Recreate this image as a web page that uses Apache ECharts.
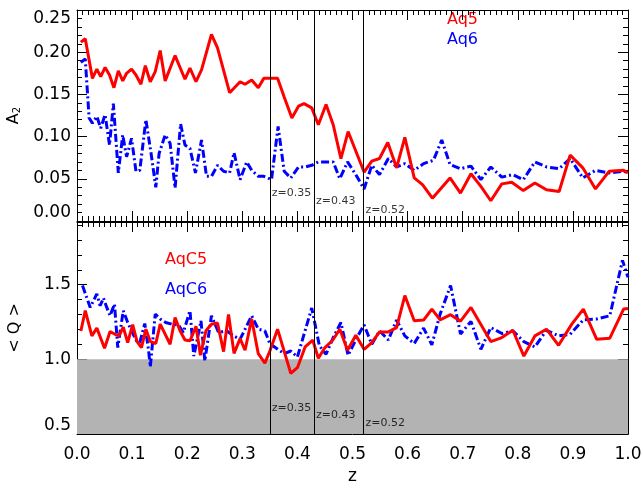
<!DOCTYPE html>
<html><head><meta charset="utf-8">
<script src="https://cdn.jsdelivr.net/npm/echarts@6/dist/echarts.min.js"></script>
<style>html,body{margin:0;padding:0;background:#fff}#c{width:643px;height:483px}</style>
</head><body><div id="c"></div>
<script>
// ---- data ----
const zAq5 = [0.007,0.015,0.028,0.036,0.043,0.051,0.059,0.067,0.075,0.083,0.090,0.099,0.107,0.116,0.124,0.133,0.142,0.151,0.160,0.178,0.196,0.205,0.216,0.226,0.244,0.255,0.277,0.296,0.305,0.317,0.329,0.339,0.350,0.364,0.376,0.390,0.402,0.412,0.426,0.438,0.452,0.465,0.479,0.492,0.521,0.535,0.549,0.564,0.580,0.595,0.612,0.627,0.645,0.677,0.696,0.715,0.733,0.751,0.771,0.789,0.810,0.831,0.852,0.875,0.895,0.918,0.941,0.966,0.992,1.0];
const a2Aq5 = [0.212,0.216,0.169,0.180,0.171,0.182,0.173,0.158,0.178,0.166,0.175,0.180,0.173,0.162,0.184,0.165,0.177,0.202,0.166,0.196,0.168,0.181,0.165,0.179,0.221,0.205,0.152,0.165,0.162,0.167,0.158,0.169,0.169,0.169,0.147,0.122,0.136,0.139,0.134,0.114,0.138,0.114,0.074,0.106,0.058,0.071,0.074,0.093,0.063,0.099,0.051,0.043,0.027,0.051,0.033,0.056,0.041,0.024,0.044,0.046,0.036,0.045,0.037,0.035,0.078,0.063,0.038,0.059,0.060,0.057];
const zAq6 = [0.007,0.015,0.022,0.028,0.036,0.043,0.051,0.059,0.066,0.075,0.083,0.090,0.099,0.107,0.114,0.125,0.134,0.143,0.149,0.160,0.169,0.178,0.188,0.196,0.205,0.215,0.226,0.235,0.244,0.255,0.266,0.277,0.285,0.296,0.308,0.317,0.329,0.339,0.353,0.365,0.376,0.388,0.402,0.414,0.426,0.438,0.465,0.477,0.491,0.506,0.521,0.535,0.549,0.565,0.580,0.595,0.612,0.629,0.647,0.662,0.677,0.696,0.715,0.733,0.751,0.771,0.791,0.810,0.831,0.852,0.875,0.895,0.918,0.941,0.966,0.992,1.0];
const a2Aq6 = [0.188,0.192,0.122,0.116,0.124,0.110,0.126,0.090,0.139,0.057,0.102,0.076,0.098,0.059,0.060,0.120,0.082,0.040,0.080,0.102,0.092,0.039,0.115,0.090,0.086,0.057,0.096,0.053,0.053,0.066,0.059,0.057,0.081,0.049,0.070,0.060,0.053,0.053,0.049,0.112,0.059,0.051,0.064,0.064,0.066,0.070,0.070,0.050,0.070,0.055,0.038,0.066,0.055,0.074,0.064,0.068,0.060,0.068,0.072,0.096,0.067,0.062,0.065,0.049,0.064,0.052,0.055,0.049,0.070,0.064,0.062,0.074,0.051,0.060,0.057,0.059,0.057];
const zAqC5 = [0.007,0.015,0.027,0.036,0.050,0.060,0.069,0.076,0.084,0.092,0.101,0.109,0.117,0.125,0.133,0.143,0.151,0.169,0.178,0.187,0.196,0.205,0.216,0.224,0.234,0.244,0.255,0.266,0.275,0.285,0.296,0.305,0.317,0.329,0.341,0.350,0.364,0.388,0.400,0.414,0.428,0.438,0.450,0.464,0.477,0.491,0.506,0.521,0.535,0.549,0.565,0.580,0.595,0.612,0.629,0.644,0.659,0.678,0.696,0.715,0.751,0.771,0.791,0.811,0.831,0.852,0.874,0.898,0.919,0.943,0.967,0.992,1.0];
const qAqC5 = [1.19,1.326,1.157,1.209,1.074,1.186,1.168,1.157,1.215,1.112,1.232,1.119,1.079,1.202,1.119,1.106,1.236,1.101,1.281,1.191,1.13,1.124,1.222,1.028,1.191,1.235,1.243,1.052,1.301,1.04,1.139,1.061,1.27,1.038,0.975,1.056,1.202,0.906,0.944,1.083,1.128,1.007,1.079,1.128,1.202,1.061,1.162,1.067,1.112,1.184,1.184,1.213,1.427,1.258,1.263,1.337,1.265,1.299,1.256,1.348,1.119,1.146,1.195,1.022,1.157,1.202,1.094,1.236,1.337,1.135,1.142,1.337,1.341];
const zAqC6 = [0.010,0.024,0.036,0.042,0.048,0.054,0.060,0.068,0.074,0.084,0.092,0.099,0.108,0.114,0.123,0.130,0.133,0.142,0.151,0.161,0.172,0.184,0.193,0.205,0.212,0.225,0.232,0.244,0.257,0.272,0.284,0.296,0.317,0.329,0.341,0.350,0.376,0.388,0.400,0.426,0.440,0.452,0.465,0.479,0.492,0.508,0.521,0.535,0.549,0.565,0.580,0.595,0.612,0.629,0.644,0.659,0.678,0.696,0.715,0.733,0.751,0.771,0.791,0.811,0.831,0.852,0.874,0.895,0.919,0.943,0.967,0.990,1.0];
const qAqC6 = [1.494,1.348,1.438,1.359,1.411,1.348,1.292,1.371,1.079,1.326,1.247,1.191,1.124,1.112,1.240,1.056,0.95,1.303,1.27,1.247,1.236,1.231,1.18,1.326,1.022,1.258,0.989,1.292,1.18,1.191,1.157,1.135,1.292,1.202,1.191,1.105,1.038,1.056,1.016,1.344,1.09,1.034,1.146,1.247,1.027,1.146,1.231,1.101,1.191,1.130,1.263,1.157,1.106,1.209,1.097,1.303,1.494,1.17,1.254,1.067,1.213,1.173,1.191,1.119,1.083,1.195,1.157,1.168,1.265,1.27,1.292,1.663,1.55];
const markerZ = [0.35, 0.43, 0.52];
const markerLabels = ['z=0.35', 'z=0.43', 'z=0.52'];
const greyBand = [0.5, 1.0];
const seriesNames = ['Aq5', 'Aq6', 'AqC5', 'AqC6'];

// ---- helpers ----
const FONT = 'DejaVu Sans';
const pairs = (x, y) => x.map((v, i) => [v, y[i]]);
const RED = '#ff0000', BLUE = '#0000ff';

function xAx(grid, pos, showLabel) {
  return {
    type: 'value', gridIndex: grid, position: pos, min: 0, max: 1, interval: 0.1,
    axisLine: { show: true, onZero: false, lineStyle: { color: '#000', width: 1 } },
    axisTick: { show: true, inside: true, length: 10, lineStyle: { color: '#000' } },
    minorTick: { show: true, splitNumber: 10, length: 5, lineStyle: { color: '#000' } },
    splitLine: { show: false },
    axisLabel: { show: showLabel, margin: 12, color: '#000', fontFamily: FONT, fontSize: 17,
      formatter: v => v.toFixed(1) },
    name: showLabel ? 'z' : '', nameLocation: 'middle', nameGap: 34,
    nameTextStyle: { color: '#000', fontFamily: FONT, fontSize: 17 }
  };
}
function yAx(grid, pos, min, max, interval, len, opts) {
  return Object.assign({
    type: 'value', gridIndex: grid, position: pos, min: min, max: max, interval: interval,
    axisLine: { show: true, onZero: false, lineStyle: { color: '#000', width: 1 } },
    axisTick: { show: true, inside: true, length: len, lineStyle: { color: '#000' } },
    splitLine: { show: false },
    axisLabel: { show: false }
  }, opts || {});
}

const chart = echarts.init(document.getElementById('c'), null, { renderer: 'canvas' });
const option = {
  animation: false,
  backgroundColor: '#fff',
  grid: [
    { left: 77, right: 15, top: 10, height: 211, containLabel: false, outerBoundsMode: 'none' },
    { left: 77, right: 15, top: 222, height: 212, containLabel: false, outerBoundsMode: 'none' }
  ],
  xAxis: [ xAx(0, 'bottom', false), xAx(0, 'top', false), xAx(1, 'bottom', true), xAx(1, 'top', false) ],
  yAxis: [
    yAx(0, 'left', 0, 0.25, 0.05, 10, {
      minorTick: { show: true, splitNumber: 5, length: 5, lineStyle: { color: '#000' } },
      axisLabel: { show: true, margin: 6, color: '#000', fontFamily: FONT, fontSize: 17,
        formatter: v => v.toFixed(2), verticalAlignMaxLabel: 'top', verticalAlignMinLabel: 'bottom' },
      name: '{a|A}{s|2}', nameLocation: 'middle', nameGap: 54,
      nameTextStyle: { color: '#000', fontFamily: FONT,
        rich: { a: { fontFamily: FONT, fontSize: 16, lineHeight: 16, verticalAlign: 'top', color: '#000' },
                s: { fontFamily: FONT, fontSize: 10, lineHeight: 10, padding: [11, 0, 0, 0], verticalAlign: 'bottom', color: '#000' } } }
    }),
    yAx(0, 'right', 0, 0.25, 0.05, 10, {
      minorTick: { show: true, splitNumber: 5, length: 5, lineStyle: { color: '#000' } } }),
    yAx(1, 'left', 0.5, 1.92, 0.5, 10, {
      axisLabel: { show: true, margin: 6, color: '#000', fontFamily: FONT, fontSize: 17,
        formatter: v => v.toFixed(1), showMaxLabel: false, verticalAlignMinLabel: 'bottom' },
      name: '< Q >', nameLocation: 'middle', nameGap: 54,
      nameTextStyle: { color: '#000', fontFamily: FONT, fontSize: 16 }
    }),
    yAx(1, 'left', 0.5, 1.92, 0.1, 5),
    yAx(1, 'right', 0.5, 1.92, 0.5, 10),
    yAx(1, 'right', 0.5, 1.92, 0.1, 5)
  ],
  graphic: [
    { type: 'text', left: 447, top: 12, style: { text: seriesNames[0], fill: RED, font: '16px "DejaVu Sans"' } },
    { type: 'text', left: 447, top: 32, style: { text: seriesNames[1], fill: BLUE, font: '16px "DejaVu Sans"' } },
    { type: 'text', left: 165, top: 252, style: { text: seriesNames[2], fill: RED, font: '16px "DejaVu Sans"' } },
    { type: 'text', left: 165, top: 282, style: { text: seriesNames[3], fill: BLUE, font: '16px "DejaVu Sans"' } }
  ],
  series: [
    { name: 'band', type: 'line', xAxisIndex: 2, yAxisIndex: 2, data: [], z: 1, silent: true,
      markArea: { silent: true, itemStyle: { color: '#b3b3b3' },
        data: [[{ yAxis: greyBand[0] }, { yAxis: greyBand[1] }]] } },
    { name: seriesNames[0], type: 'line', xAxisIndex: 0, yAxisIndex: 0, data: pairs(zAq5, a2Aq5),
      symbol: 'none', z: 4, lineStyle: { color: RED, width: 3 } },
    { name: seriesNames[1], type: 'line', xAxisIndex: 0, yAxisIndex: 0, data: pairs(zAq6, a2Aq6),
      symbol: 'none', z: 3, lineStyle: { color: BLUE, width: 3, type: [8, 3, 2, 3] } },
    { name: seriesNames[2], type: 'line', xAxisIndex: 2, yAxisIndex: 2, data: pairs(zAqC5, qAqC5),
      symbol: 'none', z: 4, lineStyle: { color: RED, width: 3 } },
    { name: seriesNames[3], type: 'line', xAxisIndex: 2, yAxisIndex: 2, data: pairs(zAqC6, qAqC6),
      symbol: 'none', z: 3, lineStyle: { color: BLUE, width: 3, type: [8, 3, 2, 3] } },
    { name: 'markTop', type: 'scatter', xAxisIndex: 0, yAxisIndex: 0, symbolSize: 0, z: 5, silent: true,
      data: markerZ.map((z, i) => ({ value: [z, [0.033, 0.024, 0.013][i]], label: { formatter: markerLabels[i] } })),
      label: { show: true, position: 'right', distance: 2, color: '#000', fontFamily: FONT, fontSize: 11 },
      markLine: { silent: true, symbol: ['none', 'none'], label: { show: false },
        lineStyle: { color: '#000', width: 1, type: 'solid' }, data: markerZ.map(z => ({ xAxis: z })) } },
    { name: 'markBottom', type: 'scatter', xAxisIndex: 2, yAxisIndex: 2, symbolSize: 0, z: 5, silent: true,
      data: markerZ.map((z, i) => ({ value: [z, [0.674, 0.628, 0.574][i]], label: { formatter: markerLabels[i] } })),
      label: { show: true, position: 'right', distance: 2, color: '#000', fontFamily: FONT, fontSize: 11 },
      markLine: { silent: true, symbol: ['none', 'none'], label: { show: false },
        lineStyle: { color: '#000', width: 1, type: 'solid' }, data: markerZ.map(z => ({ xAxis: z })) } }
  ]
};
chart.setOption(option);
</script></body></html>
